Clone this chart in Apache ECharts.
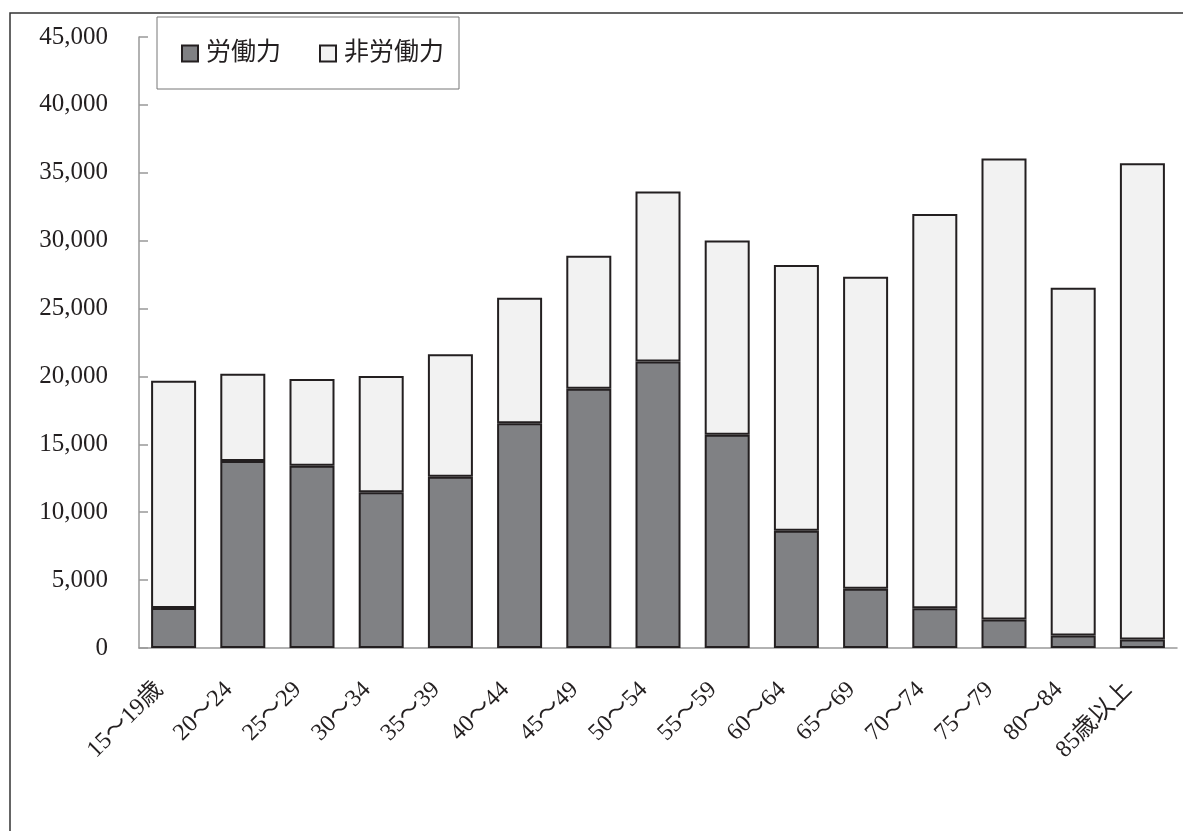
<!DOCTYPE html>
<html>
<head>
<meta charset="utf-8">
<script src="https://cdn.jsdelivr.net/npm/echarts@6/dist/echarts.min.js"></script>
<style>
  html, body { margin: 0; padding: 0; background: #fff; }
  #chart { width: 1183px; height: 831px; }
</style>
</head>
<body>
<div id="chart"></div>
<script>
// 年齢階級
var categories = ['15～19歳', '20～24', '25～29', '30～34', '35～39', '40～44', '45～49',
  '50～54', '55～59', '60～64', '65～69', '70～74', '75～79', '80～84', '85歳以上'];
// 労働力
var laborForce = [2950, 13780, 13430, 11470, 12620, 16560, 19090, 21100, 15700, 8640, 4360, 2920, 2090, 920, 630];
// 非労働力
var nonLaborForce = [16730, 6410, 6390, 8570, 9020, 9230, 9800, 12530, 14320, 19560, 22990, 29040, 33960, 25610, 35070];
var seriesNames = ['労働力', '非労働力'];
var yMax = 45000;
var yStep = 5000;

var textFont = '"Liberation Serif", "DejaVu Serif", "Noto Sans CJK JP", serif';
var chart = echarts.init(document.getElementById('chart'));

var option = {
  backgroundColor: '#fff',
  animation: false,
  graphic: [{
    type: 'rect',
    shape: { x: 10, y: 13, width: 1300, height: 900 },
    style: { fill: 'none', stroke: '#333', lineWidth: 1.5 },
    silent: true,
    z: -1
  }],
  legend: {
    left: 157,
    top: 17,
    padding: [24, 15, 23, 24],
    itemGap: 38,
    itemWidth: 16,
    itemHeight: 16,
    icon: 'rect',
    borderColor: '#777',
    borderWidth: 1,
    borderRadius: 0,
    textStyle: { fontFamily: textFont, fontSize: 25, color: '#231f20', padding: [0, 0, 0, 3] },
    data: seriesNames
  },
  grid: {
    left: 139,
    right: 6,
    top: 37,
    bottom: 183,
    containLabel: false
  },
  xAxis: {
    type: 'category',
    data: categories,
    axisLine: { lineStyle: { color: '#999', width: 1.5 } },
    axisTick: { inside: true, length: 10, lineStyle: { color: '#999', width: 1.5 } },
    axisLabel: {
      rotate: 45,
      margin: 24,
      padding: [0, 20, 0, 0],
      fontFamily: textFont,
      fontSize: 24,
      color: '#231f20'
    }
  },
  yAxis: {
    type: 'value',
    min: 0,
    max: yMax,
    interval: yStep,
    splitLine: { show: false },
    axisLine: { show: true, lineStyle: { color: '#999', width: 1.5 } },
    axisTick: { show: true, inside: true, length: 9, lineStyle: { color: '#999', width: 1.5 } },
    axisLabel: {
      margin: 31,
      fontFamily: textFont,
      fontSize: 25,
      color: '#231f20',
      formatter: function (v) { return v.toLocaleString('en-US'); }
    }
  },
  series: [
    {
      name: seriesNames[0],
      type: 'bar',
      stack: 'total',
      barWidth: 45,
      data: laborForce,
      itemStyle: { color: '#808184', borderColor: '#231f20', borderWidth: 2 }
    },
    {
      name: seriesNames[1],
      type: 'bar',
      stack: 'total',
      barWidth: 45,
      data: nonLaborForce,
      itemStyle: { color: '#f2f2f2', borderColor: '#231f20', borderWidth: 2 }
    }
  ]
};

chart.setOption(option);
window.addEventListener('resize', function () { chart.resize(); });
</script>
</body>
</html>
